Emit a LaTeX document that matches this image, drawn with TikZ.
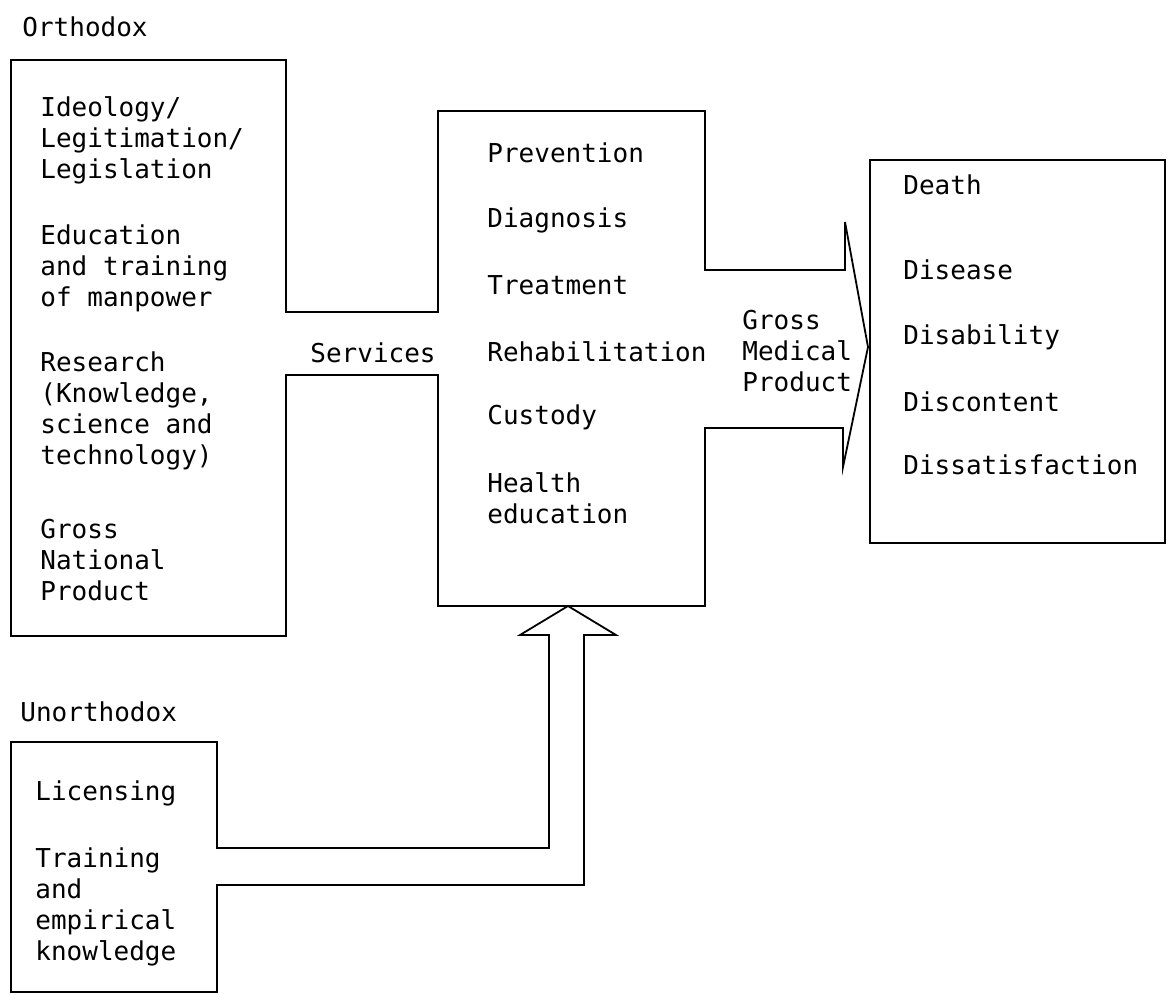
\documentclass[tikz,border=0pt]{standalone}
\usepackage{fontspec}
\setmonofont{DejaVu Sans Mono}
\usetikzlibrary{positioning}

\begin{document}
\begin{tikzpicture}[x=0.5pt, y=-0.5pt,
  outline/.style={draw=black, line width=0.9pt, line join=miter},
  item/.style={anchor=west, align=left, inner sep=0pt, font=\ttfamily\fontsize{13}{15.5}\selectfont},
  head/.style={item}]
\useasboundingbox (0,0) rectangle (1172,995);
% corners of the orthodox block, the services box and the pipes
\coordinate (o-nw) at (11,60);
\coordinate (o-se) at (286,636);
\coordinate (s-nw) at (438,111);
\coordinate (s-se) at (705,606);
\coordinate (r-nw) at (870,160);
\coordinate (r-se) at (1165,543);
\coordinate (u-nw) at (11,742);
\coordinate (u-se) at (217,992);
% orthodox box, services pipe, services box and gross medical product arrow
\draw[outline] (o-nw) -| (286,312) -- (438,312) |- (705,111) -- (705,270) -- (845,270)
  -- (845,222) -- (868,347) -- (843,467) -- (843,428) -- (705,428) |- (438,606)
  -- (438,375) -- (286,375) |- (11,636) -- cycle;
% unorthodox box and the arrow up into the services
\draw[outline] (u-nw) -| (217,848) -- (549,848) -- (549,635) -- (520,635) -- (568,606)
  -- (616,635) -- (584,635) -- (584,885) -- (217,885) |- (11,992) -- cycle;
% outcome box
\draw[outline] (r-nw) rectangle (r-se);
\node[head] (orth) at (22,27) {Orthodox};
\node[head] (unorth) at (20,712) {Unorthodox};
\node[item] (ideo) at (40,140) {Ideology/\\Legitimation/\\Legislation};
\node[item] (edu) at (40,268) {Education\\and training\\of manpower};
\node[item] (res) at (40,411) {Research\\(Knowledge,\\science and\\technology)};
\node[item] (gnp) at (40,560) {Gross\\National\\Product};
\node[item] (serv) at (310,353) {Services};
\foreach \t/\y/\n in {Prevention/153/prev, Diagnosis/220/diag, Treatment/285/treat,
    Rehabilitation/352/rehab, Custody/417/cust}
  \node[item] (\n) at (487,\y) {\t};
\node[item] (hed) at (487,498) {Health\\education};
\node[item] (gmp) at (742,351) {Gross\\Medical\\Product};
\foreach \t/\y/\n in {Death/185/death, Disease/270/dis, Disability/337/disab,
    Discontent/402/discon, Dissatisfaction/465/dissat}
  \node[item] (\n) at (903,\y) {\t};
\node[item] (lic) at (35,793) {Licensing};
\node[item] (emp) at (35,907) {Training\\and\\empirical\\knowledge};
\end{tikzpicture}
\end{document}
